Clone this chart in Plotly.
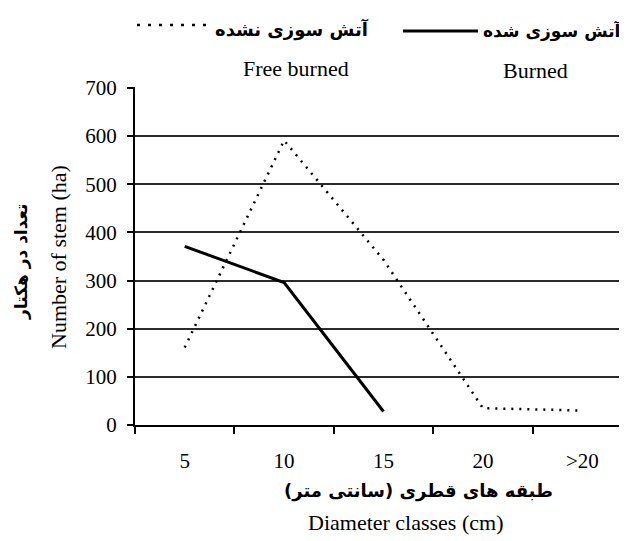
import plotly.graph_objects as go

categories = ["5", "10", "15", "20", ">20"]
free_burned = [161, 591, 343, 35, 30]
burned = [371, 296, 28]
y_ticks = [0, 100, 200, 300, 400, 500, 600, 700]

legend_free_fa = "آتش سوزی نشده"
legend_burned_fa = "آتش سوزی شده"
legend_free_en = "Free burned"
legend_burned_en = "Burned"
x_title_fa = "طبقه های قطری (سانتی متر)"
x_title_en = "Diameter classes (cm)"
y_title_fa = "تعداد در هکتار"
y_title_en = "Number of stem (ha)"

W, H = 627, 541
OFF = 8  # page body margin
L, R, T, B = 127, 0, 79, 124
PW, PH = W - L - R, H - T - B

def px(x):
    return (x - OFF - L) / PW

def py(y):
    return (H - B - (y - OFF)) / PH

SERIF = "Liberation Serif, Times New Roman, serif"
FA = "DejaVu Sans, sans-serif"

fig = go.Figure()
fig.add_trace(go.Scatter(x=categories, y=free_burned, mode="lines",
                         line=dict(color="black", width=2.5, dash="2px,6px"),
                         showlegend=False))
fig.add_trace(go.Scatter(x=categories[:len(burned)], y=burned, mode="lines",
                         line=dict(color="black", width=3),
                         showlegend=False))

anns = [
    dict(text="<b>" + legend_free_fa + "</b>", x=px(292), y=py(30), font=dict(family=FA, size=18, color="black")),
    dict(text="<b>" + legend_burned_fa + "</b>", x=px(624), y=py(31), xanchor="right", font=dict(family=FA, size=17, color="black")),
    dict(text=legend_free_en, x=px(296), y=py(69), font=dict(family=SERIF, size=22, color="black")),
    dict(text=legend_burned_en, x=px(535), y=py(71), font=dict(family=SERIF, size=22, color="black")),
    dict(text="<b>" + x_title_fa + "</b>", x=px(418), y=py(491), font=dict(family=FA, size=18, color="black")),
    dict(text=x_title_en, x=px(405), y=py(522), font=dict(family=SERIF, size=22, color="black")),
    dict(text=y_title_en, x=px(58), y=py(257), textangle=-90, font=dict(family=SERIF, size=22, color="black")),
    dict(text="<b>" + y_title_fa + "</b>", x=px(21), y=py(262), textangle=-90, font=dict(family=FA, size=17, color="black")),
]
for a in anns:
    a.setdefault("xanchor", "center")
    a.update(xref="paper", yref="paper", showarrow=False, yanchor="middle")

shapes = [
    dict(type="line", xref="paper", yref="paper", x0=px(137), x1=px(207), y0=py(25), y1=py(25),
         line=dict(color="black", width=2.5, dash="3px,8px")),
    dict(type="line", xref="paper", yref="paper", x0=px(403), x1=px(478), y0=py(31), y1=py(31),
         line=dict(color="black", width=3)),
]

fig.update_layout(
    width=W, height=H,
    margin=dict(l=L, r=R, t=T, b=B),
    paper_bgcolor="white", plot_bgcolor="white",
    annotations=anns, shapes=shapes,
    font=dict(family=SERIF, size=21, color="black"),
    xaxis=dict(type="category", categoryorder="array", categoryarray=categories,
               range=[-0.5, -0.5 + PW / 99.4], showgrid=False, showline=True,
               linecolor="black", linewidth=2, ticks="outside", tickson="boundaries",
               ticklen=7, tickwidth=2, tickcolor="black", zeroline=False,
               tickfont=dict(family=SERIF, size=21, color="black"), ticklabelstandoff=16),
    yaxis=dict(range=[0, 702], tickvals=y_ticks, showgrid=True, gridcolor="#2a2a2a",
               gridwidth=2, showline=True, linecolor="black", linewidth=2,
               ticks="outside", ticklen=6, tickwidth=1.5, tickcolor="black", zeroline=False,
               ticklabelstandoff=6,
               tickfont=dict(family=SERIF, size=21, color="black")),
)

fig.write_html("out.html")
